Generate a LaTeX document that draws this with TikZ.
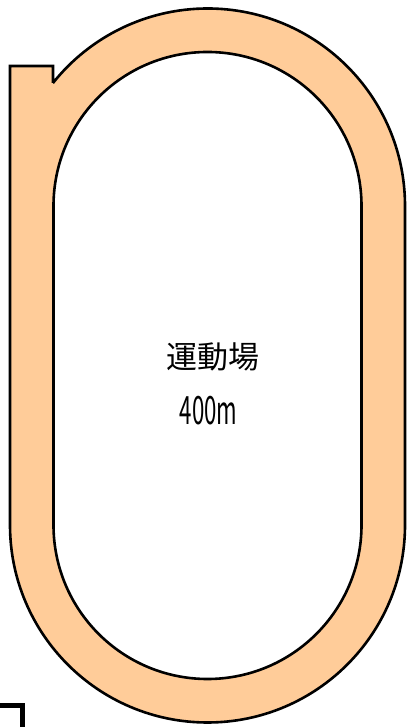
\documentclass[tikz,border=0pt]{standalone}
\usepackage{fontspec}
\newfontfamily\jpfont{Noto Sans CJK JP}
\definecolor{trackfill}{RGB}{255,204,153}
\tikzset{
  track/.style={fill=trackfill, draw=black, line width=2.6pt, even odd rule, line join=miter},
  label/.style={font=\jpfont\fontsize{31}{31}\selectfont, inner sep=0pt}
}

\begin{document}
\begin{tikzpicture}[x=1pt,y=1pt]
\clip (0,0) rectangle (417,727);
%\draw[step=50,gray,very thin] (0,0) grid (417,727); %background grid
% outer edge with the straight run-out at top left, then the infield
\draw[track] (53,644) -- (53,661) -- (10,661) -- (10,202)
    arc[start angle=180, end angle=360, radius=197.5] -- (405,521)
    arc[start angle=0, end angle=141.5, radius=197.5] -- cycle
  (53.5,202) arc[start angle=180, end angle=360, radius=154] -- (361.5,521)
    arc[start angle=0, end angle=180, radius=154] -- cycle;
\node[label] (name) at (213,370.5) {運動場};
\node[label, font=\jpfont\fontsize{39}{39}\selectfont, xscale=0.57] (length) at (208.5,316.5) {400m};
% corner of the next field
\draw[line width=4.5pt] (-5,21.5) -- (22.5,21.5) -- (22.5,-5);
\end{tikzpicture}
\end{document}
